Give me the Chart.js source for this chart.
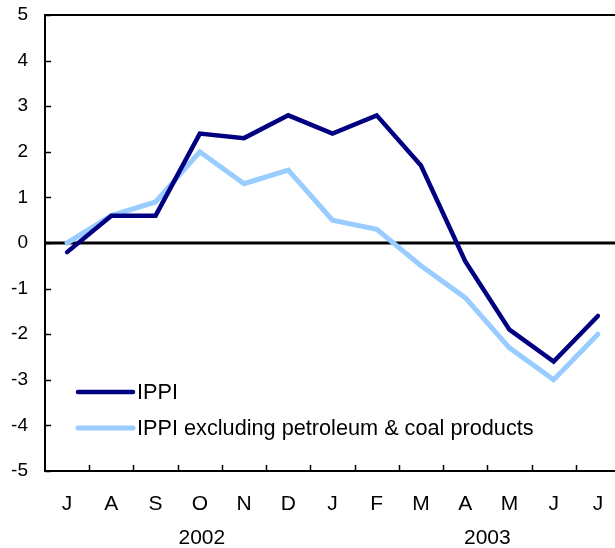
<!DOCTYPE html>
<html>
<head>
<meta charset="utf-8">
<script src="https://cdn.jsdelivr.net/npm/chart.js@4"></script>
<style>
  html, body { margin: 0; padding: 0; background: #fff; overflow: hidden; }
  canvas { display: block; }
</style>
</head>
<body>
<canvas id="chart" width="625" height="548"></canvas>
<script>
// Data
const months = ['J', 'A', 'S', 'O', 'N', 'D', 'J', 'F', 'M', 'A', 'M', 'J', 'J'];
const years = ['2002', '2003'];
const ippi = [-0.2, 0.6, 0.6, 2.4, 2.3, 2.8, 2.4, 2.8, 1.7, -0.4, -1.9, -2.6, -1.6];
const ippiExPetroleum = [0.0, 0.6, 0.9, 2.0, 1.3, 1.6, 0.5, 0.3, -0.5, -1.2, -2.3, -3.0, -2.0];
const yMin = -5;
const yMax = 5;

const FONT = 'Arial, "Liberation Sans", sans-serif';

// frame, zero line, inward ticks, legend and year labels
const decorations = {
  id: 'decorations',
  beforeDatasetsDraw(chart) {
    const { ctx, chartArea: a, scales: { x, y } } = chart;
    ctx.save();
    ctx.strokeStyle = '#000';
    // zero line
    ctx.lineWidth = 3;
    const y0 = y.getPixelForValue(0);
    ctx.beginPath();
    ctx.moveTo(a.left, y0);
    ctx.lineTo(a.right, y0);
    ctx.stroke();
    // box
    ctx.lineWidth = 2;
    ctx.strokeRect(a.left, a.top, a.right - a.left, a.bottom - a.top);
    // y ticks pointing in
    y.ticks.forEach(t => {
      const py = Math.round(y.getPixelForValue(t.value)) + 0.5;
      ctx.lineWidth = 1.5;
      ctx.beginPath();
      ctx.moveTo(a.left, py);
      ctx.lineTo(a.left + 6, py);
      ctx.stroke();
    });
    // x ticks between categories
    for (let i = 1; i < months.length; i++) {
      const px = Math.round(x.getPixelForValue(i - 0.5)) + 0.5;
      ctx.lineWidth = 1.5;
      ctx.beginPath();
      ctx.moveTo(px, a.bottom);
      ctx.lineTo(px, a.bottom - 6);
      ctx.stroke();
    }
    ctx.restore();
  },
  afterDatasetsDraw(chart) {
    const { ctx, chartArea: a, scales: { x } } = chart;
    ctx.save();
    // legend
    ctx.font = '21.7px ' + FONT;
    ctx.textBaseline = 'middle';
    ctx.fillStyle = '#000';
    chart.data.datasets.forEach((ds, i) => {
      const ly = a.top + 377 + i * 36;
      ctx.strokeStyle = ds.borderColor;
      ctx.lineWidth = ds.borderWidth;
      ctx.lineCap = 'round';
      ctx.beginPath();
      ctx.moveTo(a.left + 33, ly);
      ctx.lineTo(a.left + 88, ly);
      ctx.stroke();
      ctx.fillText(ds.label, a.left + 92, ly + 1);
    });
    // year labels
    ctx.font = '21px ' + FONT;
    ctx.textAlign = 'center';
    ctx.fillText(years[0], x.getPixelForValue(3) + 2, a.bottom + 67);
    ctx.fillText(years[1], x.getPixelForValue(9.5), a.bottom + 67);
    ctx.restore();
  }
};

const ctx = document.getElementById('chart').getContext('2d');
new Chart(ctx, {
  type: 'line',
  data: {
    labels: months,
    datasets: [
      {
        label: 'IPPI',
        data: ippi,
        borderColor: '#000080',
        borderWidth: 4.5,
        pointRadius: 0,
        tension: 0,
        borderCapStyle: 'round',
        borderJoinStyle: 'miter'
      },
      {
        label: 'IPPI excluding petroleum & coal products',
        data: ippiExPetroleum,
        borderColor: '#99ccff',
        borderWidth: 5,
        pointRadius: 0,
        tension: 0,
        borderCapStyle: 'round',
        borderJoinStyle: 'miter'
      }
    ]
  },
  options: {
    responsive: false,
    animation: false,
    layout: { padding: { top: 15, right: 5, left: 0, bottom: 0 } },
    plugins: {
      legend: { display: false },
      tooltip: { enabled: false }
    },
    scales: {
      x: {
        offset: true,
        grid: { display: false, drawTicks: false },
        border: { display: false },
        ticks: {
          color: '#000',
          font: { size: 21, family: FONT },
          padding: 21,
          maxRotation: 0,
          autoSkip: false
        },
        afterFit(scale) {
          scale.height = 77;
          scale.paddingLeft = 0;
          scale.paddingRight = 0;
        }
      },
      y: {
        min: yMin,
        max: yMax,
        grid: { display: false, drawTicks: false },
        border: { display: false },
        ticks: {
          stepSize: 1,
          color: '#000',
          font: { size: 19, family: FONT },
          padding: 17
        },
        afterFit(scale) {
          scale.width = 45;
          scale.paddingTop = 0;
          scale.paddingBottom = 0;
        }
      }
    }
  },
  plugins: [decorations]
});
</script>
</body>
</html>
